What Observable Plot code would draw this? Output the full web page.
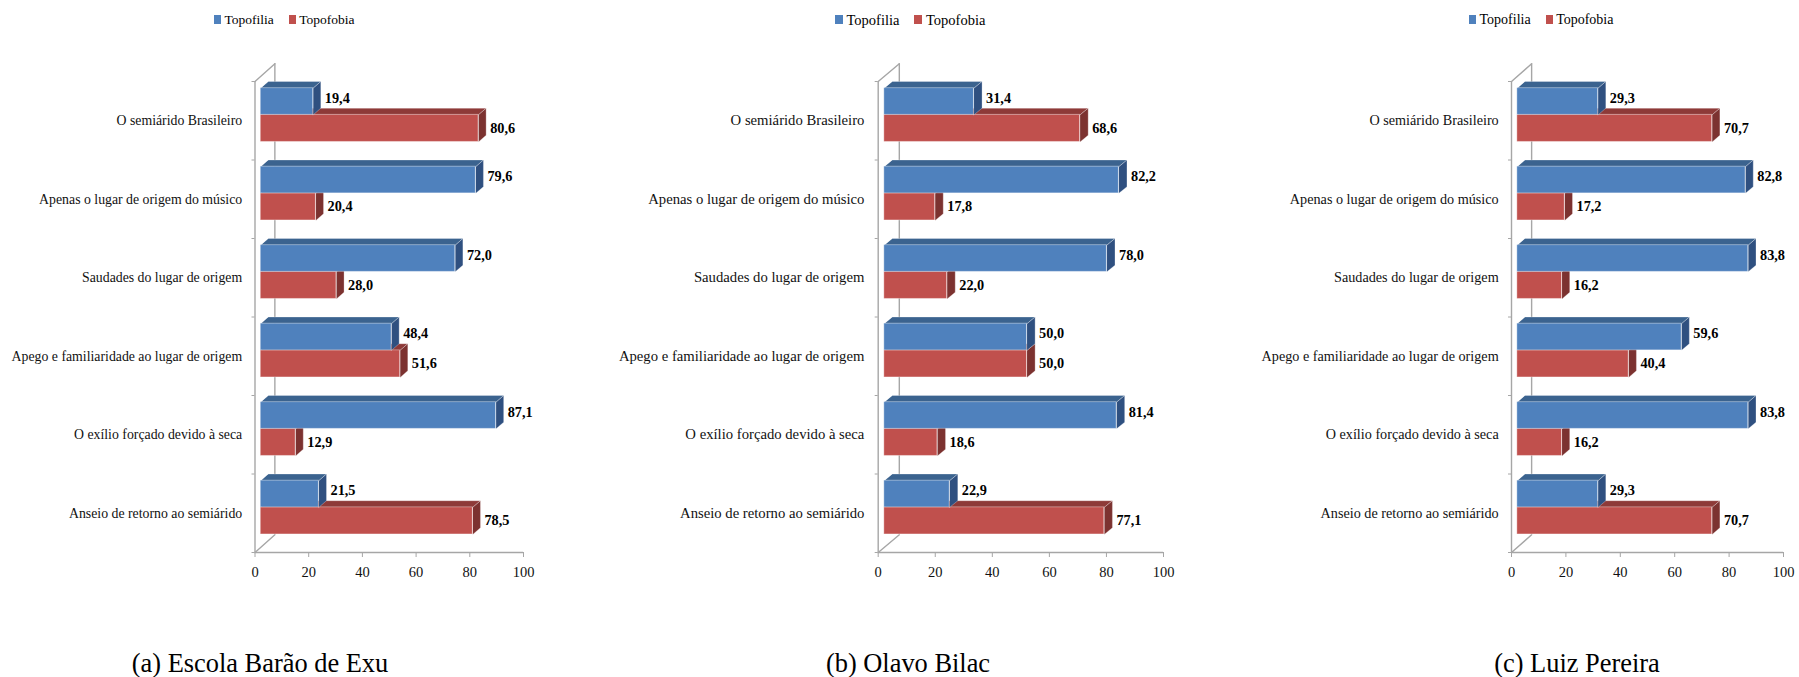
<!DOCTYPE html>
<html><head><meta charset="utf-8">
<script src="https://cdn.jsdelivr.net/npm/d3@7"></script>
<script src="https://cdn.jsdelivr.net/npm/@observablehq/plot@0.6"></script>
<style>
html,body{margin:0;padding:0;background:#fff;overflow:hidden}
body{width:1799px;height:677px;position:relative;font-family:"Liberation Serif",serif;color:#000}
.panel{position:absolute;top:40px}
.legend{position:absolute;top:10.5px;display:flex;align-items:center;line-height:18px;white-space:nowrap}
.legend i{display:inline-block;height:9px;margin-right:3.5px}
.caption{position:absolute;top:648px;font-size:26.4px;line-height:30px;white-space:nowrap;transform:translateX(-50%)}
svg text{font-family:"Liberation Serif",serif}
</style></head><body>
<script>
const categories = ["O semiárido Brasileiro","Apenas o lugar de origem do músico","Saudades do lugar de origem","Apego e familiaridade ao lugar de origem","O exílio forçado devido à seca","Anseio de retorno ao semiárido"];
const seriesNames = ["Topofilia","Topofobia"];
const xTicks = [0,20,40,60,80,100];
const schoolA = "(a) Escola Barão de Exu";
const topofiliaA = [19.4,79.6,72.0,48.4,87.1,21.5];
const topofobiaA = [80.6,20.4,28.0,51.6,12.9,78.5];
const schoolB = "(b) Olavo Bilac";
const topofiliaB = [31.4,82.2,78.0,50.0,81.4,22.9];
const topofobiaB = [68.6,17.8,22.0,50.0,18.6,77.1];
const schoolC = "(c) Luiz Pereira";
const topofiliaC = [29.3,82.8,83.8,59.6,83.8,29.3];
const topofobiaC = [70.7,17.2,16.2,40.4,16.2,70.7];

const blue = {front:"#4F81BD", top:"#3B638F", side:"#2F5080"};
const red  = {front:"#C0504D", top:"#8E3A38", side:"#7C3230"};
const grid = "#A6A6A6";
const edge = "rgba(255,255,255,.35)";
const fmt = v => v.toFixed(1).replace(".", ",");

// depth of the pseudo-3D extrusion, in data units of the x and y scales
const DX = 2.85, DY = 0.085, START = 2.15, WALLX = 7.4, WALLY = 0.225;
const BT = 0.085, BM = 0.425, BB = 0.77;

function facesFor(values, y1, y2, stretch){
  const top = [], side = [], front = [];
  values.forEach((v,i)=>{
    const s = START, e = START + v*stretch, t = i + y1, b = i + y2;
    [[s,t],[e,t],[e+DX,t-DY],[s+DX,t-DY]].forEach(([x,y])=>top.push({id:i,x,y}));
    [[e,t],[e+DX,t-DY],[e+DX,b-DY],[e,b]].forEach(([x,y])=>side.push({id:i,x,y}));
    front.push({x1:s,x2:e,y1:t,y2:b});
  });
  return {top,side,front};
}
function barMarks(f, c){
  const poly = (d,col)=>Plot.line(d,{x:"x",y:"y",z:"id",fill:col,stroke:edge,strokeWidth:0.8,curve:"linear-closed"});
  return [poly(f.top,c.top), poly(f.side,c.side),
    Plot.rect(f.front,{x1:"x1",x2:"x2",y1:"y1",y2:"y2",fill:c.front,stroke:edge,strokeWidth:1,inset:0})];
}
function panel(left, width, x0, x100, fil, fob, stretch, catSize, catPad){
  const blueF = facesFor(fil,BT,BM,stretch), redF = facesFor(fob,BM,BB,stretch);
  const labels = (vals,y,dy)=>Plot.text(vals,{x:d=>START+d*stretch+DX,y:(d,i)=>i+y,text:fmt,dx:4,dy,textAnchor:"start",
    fontWeight:"bold",fontSize:14.3,fill:"#000"});
  const chart = Plot.plot({
    width, height:560, marginLeft:x0-left, marginRight:left+width-x100, marginTop:41, marginBottom:48,
    style:{background:"transparent",overflow:"visible"},
    x:{domain:[0,100]}, y:{domain:[0,6],reverse:true},
    marks:[
      Plot.ruleX([WALLX],{y1:-WALLY,y2:6-WALLY,stroke:grid,strokeWidth:1.4}),
      Plot.line([{x:0,y:0},{x:WALLX,y:-WALLY}],{x:"x",y:"y",stroke:grid,strokeWidth:1.4}),
      Plot.line([{x:0,y:6},{x:WALLX,y:6-WALLY}],{x:"x",y:"y",stroke:grid,strokeWidth:1.4}),
      Plot.ruleX([0],{y1:0,y2:6,stroke:grid,strokeWidth:1.4}),
      Plot.ruleY([6],{x1:0,x2:100,stroke:grid,strokeWidth:1.4}),
      Plot.axisX({ticks:xTicks,tickSize:5,tickPadding:9,label:null,fontSize:14.5,stroke:grid,fill:"#111",anchor:"bottom",tickFormat:d=>String(d)}),
      Plot.axisY({ticks:d3.range(0,7),tickSize:3,tickFormat:()=>"",label:null,stroke:grid,anchor:"left"}),
      Plot.axisY({ticks:categories.map((c,i)=>i+.5),tickSize:0,tickPadding:catPad,tickFormat:d=>categories[d-.5],label:null,fontSize:catSize,fill:"#111",anchor:"left"}),
      ...barMarks(redF,red),
      ...barMarks(blueF,blue),
      labels(fil,(BT+BM)/2,-3.5),
      labels(fob,(BM+BB)/2,0)
    ]
  });
  const div = document.createElement("div");
  div.className = "panel"; div.style.left = left+"px"; div.style.width = width+"px";
  div.append(chart);
  document.body.append(div);
}
function legend(left, size, swatch, gap){
  const l = document.createElement("div");
  l.className = "legend"; l.style.left = left+"px"; l.style.fontSize = size+"px";
  seriesNames.forEach((n,i)=>{
    const sw = document.createElement("i"); sw.style.background = i? red.front : blue.front; sw.style.width = swatch+"px";
    const t = document.createElement("span"); t.textContent = n; t.style.marginRight = gap+"px";
    l.append(sw,t);
  });
  document.body.append(l);
}
function caption(cx, text){
  const c = document.createElement("div");
  c.className = "caption"; c.style.left = cx+"px"; c.textContent = text;
  document.body.append(c);
}
panel(0,600,254.5,523,topofiliaA,topofobiaA,1.006,13.8,12.8);
panel(600,600,877.7,1163,topofiliaB,topofobiaB,1,14.7,13.8);
panel(1200,599,1511,1783,topofiliaC,topofobiaC,1.013,14.2,12.8);
legend(214,13.5,7,15); legend(835,14.5,8,15); legend(1469,14,7,15);
caption(260,schoolA); caption(908,schoolB); caption(1577,schoolC);
</script>
</body></html>
